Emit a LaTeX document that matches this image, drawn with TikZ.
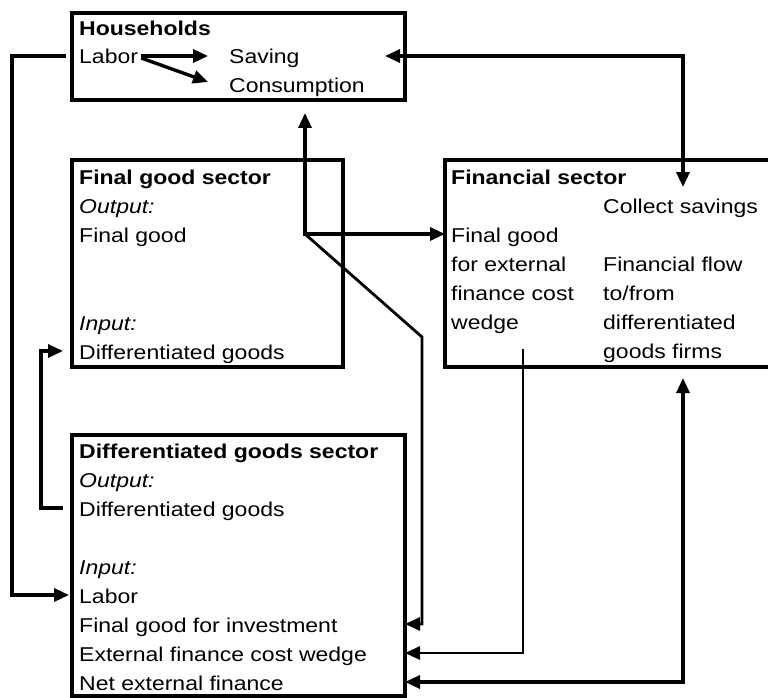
\documentclass[tikz,border=0pt]{standalone}
\usepackage{fontspec}
\setmainfont{Liberation Sans}[FakeStretch=1.15]
\usetikzlibrary{arrows.meta}
\begin{document}
\begin{tikzpicture}[x=1pt,y=-1pt,
  box/.style={draw,line width=3.4pt,anchor=north west,inner sep=0pt,outer sep=0pt},
  txt/.style={anchor=base west,inner sep=0pt,text height=16pt,text depth=0pt,font=\fontsize{20}{29}\selectfont},
  flow/.style={line width=3.4pt,-{Triangle[length=15pt,width=13pt]}},
  dflow/.style={line width=3.4pt,{Triangle[length=15pt,width=13pt]}-{Triangle[length=15pt,width=13pt]}},
  thinflow/.style={line width=2.8pt,-{Triangle[length=15pt,width=13pt]}}]
\useasboundingbox (0,0) rectangle (768,698);
\clip (0,0) rectangle (768,698);

% boxes
\node (hh) at (72,13) [box,minimum width=333pt,minimum height=87pt] {};
\node (fg) at (72,160) [box,minimum width=271pt,minimum height=207pt] {};
\node (fin) at (445,160) [box,minimum width=327pt,minimum height=207pt] {};
\node (dg) at (72,435) [box,minimum width=333pt,minimum height=261pt] {};

% households
\node (hht) at (79,36) [txt] {\bfseries Households};
\node (hhlab) at (79,64) [txt] {Labor};
\node (hhsav) at (229,64) [txt] {Saving};
\node (hhcon) at (229,93) [txt] {Consumption};

% final good sector
\node (fgt) at (79,184) [txt] {\bfseries Final good sector};
\node (fgo) at (79,213) [txt] {\itshape Output:};
\node (fgout) at (79,242) [txt] {Final good};
\node (fgi) at (79,330) [txt] {\itshape Input:};
\node (fgin) at (79,359) [txt] {Differentiated goods};

% financial sector
\node (fint) at (451,184) [txt] {\bfseries Financial sector};
\node (fincol) at (603,213) [txt] {Collect savings};
\node (fin1) at (451,242) [txt] {Final good};
\node (fin2) at (451,271) [txt] {for external};
\node (fin3) at (451,300) [txt] {finance cost};
\node (fin4) at (451,329) [txt] {wedge};
\node (fin5) at (603,271) [txt] {Financial flow};
\node (fin6) at (603,300) [txt] {to/from};
\node (fin7) at (603,329) [txt] {differentiated};
\node (fin8) at (603,358) [txt] {goods firms};

% differentiated goods sector
\node (dgt) at (79,458) [txt] {\bfseries Differentiated goods sector};
\node (dgo) at (79,487) [txt] {\itshape Output:};
\node (dgout) at (79,516) [txt] {Differentiated goods};
\node (dgi) at (79,574) [txt] {\itshape Input:};
\node (dglab) at (79,603) [txt] {Labor};
\node (dgfg) at (79,632) [txt] {Final good for investment};
\node (dgwed) at (79,661) [txt] {External finance cost wedge};
\node (dgnet) at (79,690) [txt] {Net external finance};

% bends and free ends
\coordinate (hsv) at (385,56);
\coordinate (cs) at (683,187);
\coordinate (j) at (305,234);
\coordinate (hin) at (305,113);
\coordinate (d1) at (422,337);
\coordinate (w1) at (523,349);
\coordinate (ff) at (683,378);

\draw[flow] ([xshift=3pt]hhlab.east) -- ([xshift=-21pt]hhsav.west);
\draw[flow] ([xshift=3pt,yshift=-2pt]hhlab.east) -- ([xshift=-21pt,yshift=3pt]hhcon.west);
\draw[flow] ([xshift=-13pt]hhlab.west) -- ++(-54,0) |- ([xshift=-10pt]dglab.west);
\draw[flow] ([xshift=-16pt]dgout.west) -- ++(-22,0) |- ([xshift=-16pt]fgin.west);
\draw[dflow] (hsv) -| (cs);
\draw[dflow] (hin) -- (j) -- (fin.west |- j);
\draw[thinflow] (j) -- (d1) -- (d1 |- dgfg.east) -- (dg.east |- dgfg.east);
\draw[thinflow] (w1) |- (dg.east |- dgwed.east);
\draw[dflow] (ff) |- (dg.east |- dgnet.east);
\end{tikzpicture}
\end{document}
